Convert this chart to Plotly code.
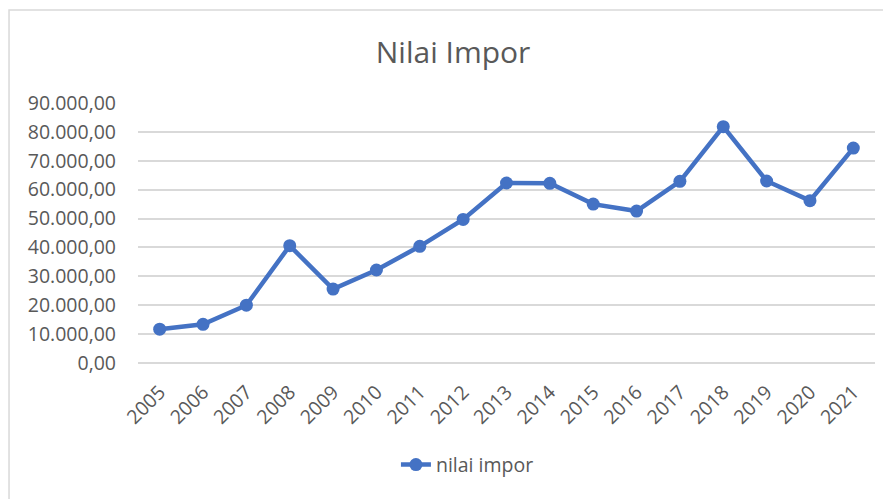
import plotly.graph_objects as go

years = [str(y) for y in range(2005, 2022)]
nilai_impor = [11700, 13400, 20000, 40600, 25600, 32200, 40400, 49700,
               62300, 62200, 55000, 52600, 62900, 81800, 63000, 56200, 74400]

y_ticks = [0, 10000, 20000, 30000, 40000, 50000, 60000, 70000, 80000, 90000]

blue = "#4472C4"
grey_text = "#595959"
font_family = "Open Sans, Lato, sans-serif"

# the page body has an 8px margin, so the figure is drawn 8px in from the corner
W, H = 883, 491

fig = go.Figure()
fig.add_trace(
    go.Scatter(
        x=years,
        y=nilai_impor,
        mode="lines+markers",
        name="nilai impor",
        line=dict(color=blue, width=4.5),
        marker=dict(color=blue, size=13),
    )
)

fig.update_layout(
    width=W,
    height=H,
    autosize=False,
    margin=dict(l=130, r=16, t=95, b=136, autoexpand=False),
    paper_bgcolor="white",
    plot_bgcolor="white",
    separators=",.",
    font=dict(family=font_family, color=grey_text, size=19.5),
    title=dict(
        text="Nilai Impor",
        x=0.504,
        xanchor="center",
        y=1 - 44 / H,
        yanchor="middle",
        font=dict(size=30, color=grey_text, family=font_family),
    ),
    showlegend=True,
    legend=dict(
        orientation="h",
        x=0.447,
        xanchor="center",
        y=-0.392,
        yanchor="middle",
        font=dict(size=19.5, color=grey_text),
    ),
    xaxis=dict(
        type="category",
        range=[-0.5, len(years) - 0.5],
        tickangle=-45,
        showgrid=False,
        showline=False,
        ticks="",
        ticklabelstandoff=13,
        tickfont=dict(size=19.5, color=grey_text),
        automargin=False,
    ),
    yaxis=dict(
        range=[0, 90000],
        tickvals=y_ticks,
        tickformat=",.2f",
        showgrid=True,
        gridcolor="#d9d9d9",
        gridwidth=1.5,
        zeroline=True,
        zerolinecolor="#d9d9d9",
        zerolinewidth=1.5,
        showline=False,
        ticks="",
        ticklabelstandoff=21,
        tickfont=dict(size=19.5, color=grey_text),
        automargin=False,
    ),
)

# chart area border (only top and left edges fall inside the picture)
fig.add_shape(
    type="rect",
    xref="paper",
    yref="paper",
    x0=-0.175,
    x1=1.2,
    y0=-0.8,
    y1=1.358,
    line=dict(color="#d9d9d9", width=1.5),
    fillcolor="rgba(0,0,0,0)",
    layer="below",
)

fig.write_html("out.html")
